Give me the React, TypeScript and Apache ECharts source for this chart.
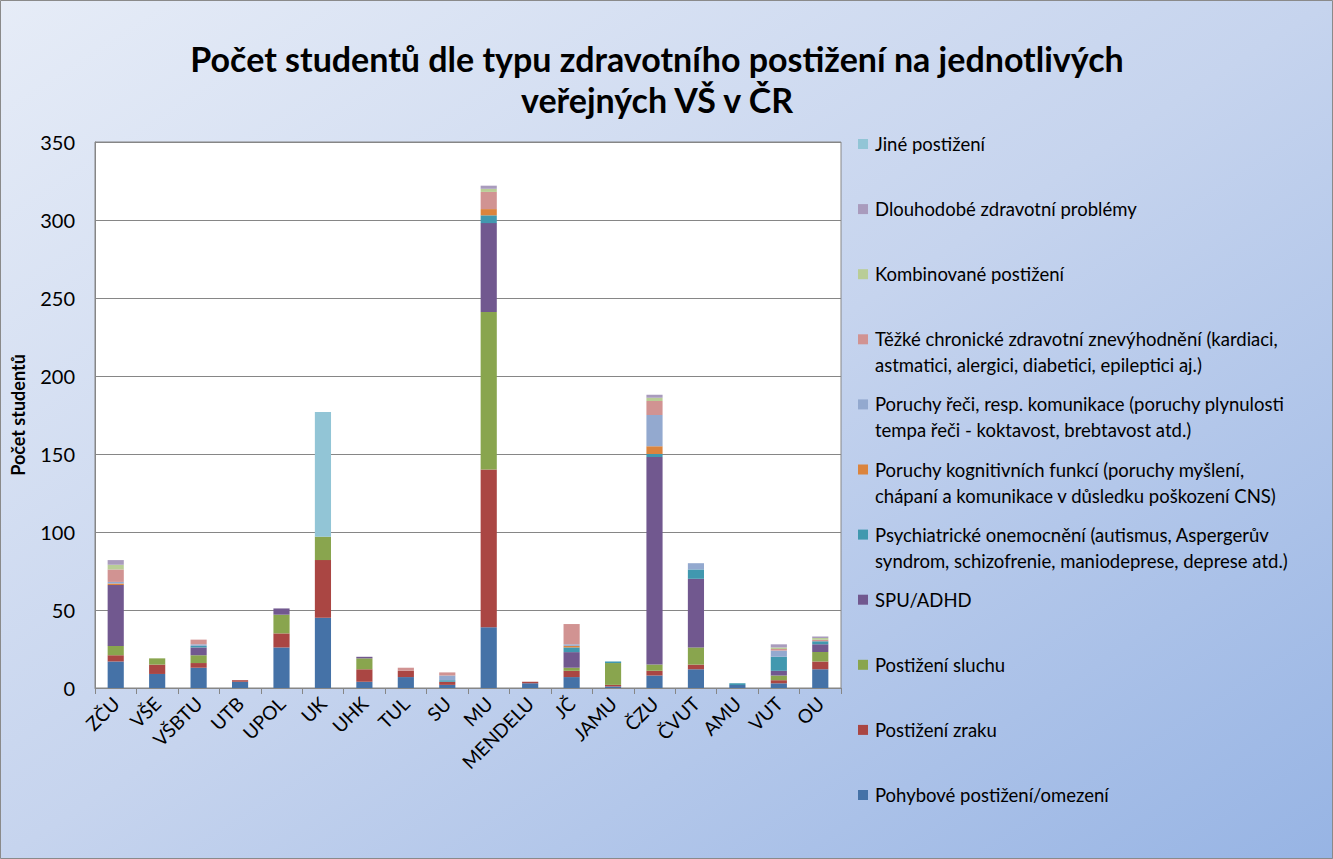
import React, { useEffect, useRef } from "react";
import * as echarts from "echarts";

const categories = ["ZČU", "VŠE", "VŠBTU", "UTB", "UPOL", "UK", "UHK", "TUL", "SU", "MU", "MENDELU", "JČ", "JAMU", "ČZU", "ČVUT", "AMU", "VUT", "OU"];

const pohybove = [17, 9, 13, 4, 26, 45, 4, 7, 2, 39, 3, 7, 1, 8, 12, 2, 3, 12];
const zraku = [4, 6, 3, 1, 9, 37, 8, 4, 2, 101, 1, 4, 1, 3, 3, 0, 2, 5];
const sluchu = [6, 4, 5, 0, 12, 15, 7, 0, 0, 101, 0, 2, 14, 4, 11, 0, 3, 6];
const spu = [39, 0, 5, 0, 4, 0, 1, 0, 0, 57, 0, 10, 0, 133, 44, 0, 3, 5];
const psych = [0, 0, 1, 0, 0, 0, 0, 0, 1, 5, 0, 3, 1, 2, 6, 1, 9, 2];
const kognit = [1, 0, 0, 0, 0, 0, 0, 0, 0, 4, 0, 1, 0, 5, 0, 0, 0, 0];
const reci = [1, 0, 1, 0, 0, 0, 0, 0, 3, 0, 0, 1, 0, 20, 4, 0, 4, 0];
const chronicke = [8, 0, 3, 0, 0, 0, 0, 2, 2, 11, 0, 13, 0, 9, 0, 0, 1, 1];
const kombinovane = [3, 0, 0, 0, 0, 0, 0, 0, 0, 2, 0, 0, 0, 2, 0, 0, 1, 1];
const dlouhodobe = [3, 0, 0, 0, 0, 0, 0, 0, 0, 2, 0, 0, 0, 2, 0, 0, 2, 1];
const jine = [0, 0, 0, 0, 0, 80, 0, 0, 0, 0, 0, 0, 0, 0, 0, 0, 0, 0];

const seriesNames = [
  "Pohybové postižení/omezení",
  "Postižení zraku",
  "Postižení sluchu",
  "SPU/ADHD",
  "Psychiatrické onemocnění (autismus, Aspergerův\nsyndrom, schizofrenie, maniodeprese, deprese atd.)",
  "Poruchy kognitivních funkcí (poruchy myšlení,\nchápaní a komunikace v důsledku poškození CNS)",
  "Poruchy řeči, resp. komunikace (poruchy plynulosti\ntempa řeči - koktavost, brebtavost atd.)",
  "Těžké chronické zdravotní znevýhodnění (kardiaci,\nastmatici, alergici, diabetici, epileptici aj.)",
  "Kombinované postižení",
  "Dlouhodobé zdravotní problémy",
  "Jiné postižení",
];
const seriesData = [pohybove, zraku, sluchu, spu, psych, kognit, reci, chronicke, kombinovane, dlouhodobe, jine];
const colors = ["#4572A7", "#AA4643", "#89A54E", "#71588F", "#4198AF", "#DB843D", "#93A9CF", "#D19392", "#B9CD96", "#A99BBD", "#92C5D6"];

const yTicks = { min: 0, max: 350, interval: 50 };
const titleText = "Počet studentů dle typu zdravotního postižení na jednotlivých\nveřejných VŠ v ČR";
const yAxisName = "Počet studentů";

const FONT = "Lato, 'Open Sans', sans-serif";

export default function App() {
  const ref = useRef<HTMLDivElement>(null);
  useEffect(() => {
    document.body.style.margin = "0";
    const chart = echarts.init(ref.current!, null, { renderer: "svg" });
    const legendGraphics: any[] = [];
    for (let i = 0; i < seriesNames.length; i++) {
      const idx = seriesNames.length - 1 - i;
      const yc = 144 + i * 65.1;
      legendGraphics.push({
        type: "rect",
        shape: { x: 858, y: yc - 5, width: 10, height: 10 },
        style: { fill: colors[idx] },
        silent: true,
      });
      legendGraphics.push({
        type: "text",
        x: 875,
        y: yc - 13,
        style: {
          text: seriesNames[idx],
          font: `18.5px ${FONT}`,
          fill: "#000",
          lineHeight: 26,
          textVerticalAlign: "top",
        },
        silent: true,
      });
    }
    chart.setOption({
      animation: false,
      backgroundColor: new echarts.graphic.LinearGradient(0, 0, 1, 1, [
        { offset: 0, color: "#E6ECF7" },
        { offset: 0.5, color: "#C6D4EE" },
        { offset: 1, color: "#97B4E4" },
      ]),
      title: {
        text: titleText,
        left: 652,
        top: 33,
        textAlign: "center",
        textStyle: { fontFamily: FONT, fontSize: 34, fontWeight: "bold", color: "#000", lineHeight: 41 },
      },
      grid: {
        left: 95,
        top: 142,
        width: 746,
        height: 546,
        show: true,
        backgroundColor: "#FFFFFF",
        borderColor: "#868686",
        borderWidth: 1,
      },
      xAxis: {
        type: "category",
        data: categories,
        axisLine: { lineStyle: { color: "#868686" } },
        axisTick: { show: true, length: 6, lineStyle: { color: "#868686" } },
        axisLabel: { rotate: 45, fontSize: 19, fontFamily: FONT, color: "#000", margin: 12, interval: 0 },
      },
      yAxis: {
        type: "value",
        min: yTicks.min,
        max: yTicks.max,
        interval: yTicks.interval,
        name: yAxisName,
        nameLocation: "middle",
        nameGap: 68,
        nameTextStyle: { fontFamily: FONT, fontSize: 18, fontWeight: "bold", color: "#000" },
        axisLine: { show: true, lineStyle: { color: "#868686" } },
        axisTick: { show: false },
        axisLabel: { fontSize: 20, fontFamily: FONT, color: "#000", margin: 20 },
        splitLine: { lineStyle: { color: "#868686", width: 1 } },
      },
      series: seriesNames.map((name, i) => ({
        name,
        type: "bar",
        stack: "total",
        data: seriesData[i],
        barWidth: "39%",
        itemStyle: { color: colors[i] },
      })),
      graphic: [
        {
          type: "rect",
          shape: { x: 0.5, y: 0.5, width: 1332, height: 858 },
          style: { fill: "none", stroke: "#8A8A8A", lineWidth: 1 },
          silent: true,
        },
        ...legendGraphics,
      ],
    });
    return () => chart.dispose();
  }, []);
  return <div ref={ref} style={{ width: 1333, height: 859 }} />;
}
